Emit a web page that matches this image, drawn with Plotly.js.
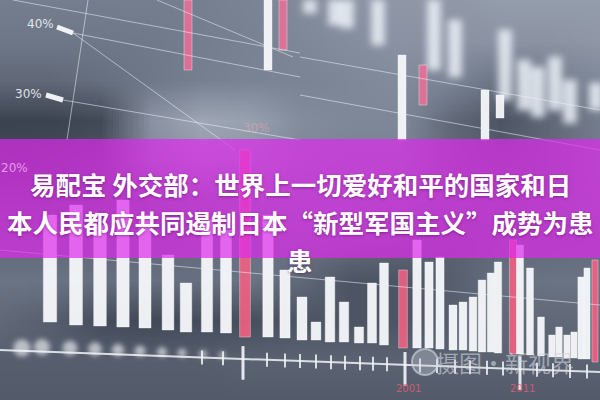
<!DOCTYPE html>
<html>
<head>
<meta charset="utf-8">
<script src="https://cdn.plot.ly/plotly-3.0.1.min.js"></script>
<style>
  html, body { margin: 0; padding: 0; background: #6c7586; }
  #chart { width: 600px; height: 400px; }
</style>
</head>
<body>
<div id="chart"></div>
<script>
const bgX = [0, 50, 100, 150, 200, 250, 300, 350, 400, 450, 500, 550, 600];
const bgRowsPx = [0, 40, 80, 120, 160, 200, 240, 280, 320, 360, 400];
const bgLevels = [
    [.55, .55, .55, .55, .56, .58, .62, .66, .68, .68, .70, .70, .70],
    [.52, .52, .52, .53, .55, .57, .60, .63, .65, .65, .66, .66, .68],
    [.45, .45, .48, .52, .56, .58, .58, .60, .62, .58, .50, .55, .60],
    [.20, .20, .25, .65, .75, .72, .62, .60, .60, .45, .35, .45, .55],
    [.25, .28, .35, .60, .68, .66, .60, .58, .58, .45, .40, .45, .55],
    [.38, .38, .40, .45, .50, .55, .55, .55, .52, .48, .45, .48, .52],
    [.45, .45, .45, .45, .47, .50, .50, .48, .45, .42, .45, .45, .47],
    [.50, .50, .48, .48, .48, .50, .45, .35, .35, .40, .48, .50, .50],
    [.45, .40, .28, .25, .28, .30, .35, .35, .35, .40, .45, .45, .45],
    [.40, .40, .40, .40, .40, .42, .42, .42, .42, .42, .42, .42, .42],
    [.38, .38, .38, .38, .38, .38, .38, .38, .38, .38, .38, .38, .38],
];

/** barres du bas (haut / bas en pixels depuis le haut de l'image) */
const lowX = [50, 76, 100, 123, 145, 168, 186, 207, 226, 245, 268, 285, 302, 316, 330, 344, 359, 372, 384, 403,
              417, 429, 440, 453, 463, 473, 482, 491, 498, 513, 520, 530, 541, 552, 559, 567, 574, 581, 587, 595];
const lowTop = [215, 205, 225, 200, 215, 255, 283, 220, 230, 150, 215, 270, 297, 322, 277, 302, 327, 283, 263, 270,
                240, 262, 257, 305, 302, 297, 280, 273, 262, 240, 245, 268, 317, 335, 327, 335, 332, 277, 268, 260];
const lowBottom = [322, 325, 326, 327, 328, 330, 332, 332, 333, 337, 337, 338, 340, 340, 342, 342, 343, 343, 345, 348,
                   348, 348, 349, 350, 350, 351, 352, 352, 353, 354, 354, 355, 356, 357, 357, 358, 358, 359, 359, 362];
const lowPink = [245, 403, 513, 595];

/** barres nettes du haut */
const midX = [188, 268, 283, 402, 423, 485, 500];
const midTop = [0, 0, 0, 55, 65, 90, 95];
const midBottom = [70, 70, 50, 140, 105, 140, 118];
const midPink = [188, 283, 423];

/** barres floues suspendues en haut à droite */
const blurX = [310, 335, 347, 378, 434, 455, 505, 524, 538, 555, 570, 596];
const blurTop = [0, 0, 0, 0, 0, 20, 30, 60, 67, 57, 80, 83];
const blurBottom = [13, 25, 28, 45, 70, 77, 100, 110, 117, 110, 123, 110];

/** traits fins en diagonale [x0, y0, x1, y1] */
const segments = [
    [13, 0, 300, 53],
    [157, 0, 293, 57],
    [73, 33, 300, 77],
    [73, 33, 235, 150],
    [63, 100, 300, 140],
    [88, 0, 67, 140],
    [300, 57, 600, 110],
    [300, 95, 600, 150],
    [0, 250, 600, 305],
];
/** petits repères blancs à côté des pourcentages */
const markSegments = [
    [57, 27, 73, 33],
    [46, 95, 63, 100],
];

/** axe du bas */
const axisLine = [0, 350, 600, 372];
const tickX = [202, 223, 267, 285, 300, 316, 331, 345, 360, 373, 387, 420, 437, 455, 470, 487, 503, 537, 553, 570, 587];
const bigTickX = [243, 405, 520];
const glowX = [22, 42, 70, 95, 118, 140, 162, 182, 203, 222];
const glowY = [348, 347, 348, 349, 350, 351, 352, 353, 354, 355];

/** textes */
const pctLabels = ['40%', '30%', '20%', '30%'];
const pctX = [40, 28, 14, 256];
const pctY = [24, 94, 168, 128];
const titleLines = ['易配宝 外交部：世界上一切爱好和平的国家和日', '本人民都应共同遏制日本“新型军国主义”成势为患', '患'];
const titleY = [183, 221, 259];
const yearLabels = ['2001', '2011'];
const yearX = [408, 522];
const watermark = '摄图·新视界';

const W = 600, H = 400;
const up = (p) => H - p;   // pixels depuis le haut -> axe y vers le haut

function barTrace(xs, tops, bottoms, pinks, white, pink, widthAt) {
    return {
        type: 'bar',
        x: xs,
        base: bottoms.map(up),
        y: bottoms.map((b, i) => b - tops[i]),
        width: xs.map(widthAt),
        marker: {
            color: xs.map(x => pinks.includes(x) ? pink : white),
            line: { color: 'rgba(255,255,255,0.35)', width: 1 },
        },
        hoverinfo: 'skip',
        showlegend: false,
    };
}

function segTrace(segs, color, width) {
    let x = [], y = [];
    segs.forEach(s => {
        x.push(s[0], s[2], null);
        y.push(up(s[1]), up(s[3]), null);
    });
    return { type: 'scatter', mode: 'lines', x: x, y: y, line: { color: color, width: width },
             hoverinfo: 'skip', showlegend: false };
}

function axisY(x) {
    return axisLine[1] + (axisLine[3] - axisLine[1]) * (x - axisLine[0]) / (axisLine[2] - axisLine[0]);
}

var data = [
    {
        type: 'heatmap',
        x: bgX,
        // y croissant (bas -> haut) pour le lissage
        y: bgRowsPx.map(up).reverse(),
        z: bgLevels.slice().reverse(),
        zmin: 0, zmax: 1,
        zsmooth: 'fast',
        colorscale: [[0, '#262a35'], [0.35, '#4d5564'], [0.6, '#7f8899'], [0.8, '#a9b1bf'], [1, '#d4d9e1']],
        showscale: false,
        hoverinfo: 'skip',
    },
    barTrace(blurX, blurTop, blurBottom, [], 'rgba(235,240,248,0.85)', 'rgba(238,100,135,0.85)', x => 13),
    barTrace(midX, midTop, midBottom, midPink, 'rgba(245,247,250,0.95)', 'rgba(236,110,150,0.85)', x => 8),
    barTrace(lowX, lowTop, lowBottom, lowPink, 'rgba(246,248,251,0.95)', 'rgba(240,95,130,0.9)', x => 14 - 8 * x / W),
    segTrace(segments, 'rgba(235,240,248,0.55)', 1),
    segTrace(markSegments, 'rgba(250,250,252,0.95)', 5),
    segTrace([axisLine], 'rgba(240,243,248,0.85)', 2),
    {
        type: 'scatter', mode: 'markers',
        x: tickX, y: tickX.map(x => up(axisY(x))),
        marker: { symbol: 'line-ns', size: 10, line: { color: 'rgba(240,243,248,0.85)', width: 2 } },
        hoverinfo: 'skip', showlegend: false,
    },
    {
        type: 'scatter', mode: 'markers',
        x: bigTickX, y: bigTickX.map(x => up(axisY(x) + 4)),
        marker: { symbol: 'line-ns', size: 24, line: { color: 'rgba(245,247,250,0.9)', width: 3 } },
        hoverinfo: 'skip', showlegend: false,
    },
    {
        type: 'scatter', mode: 'markers',
        x: glowX, y: glowY.map(up),
        marker: { size: glowX.map((x, i) => 16 - i * 1.2), color: 'rgba(245,247,252,0.9)' },
        hoverinfo: 'skip', showlegend: false,
    },
    {
        type: 'scatter', mode: 'markers',
        x: [425], y: [up(362)],
        marker: { size: 26, color: 'rgba(200,205,215,0.35)', line: { color: 'rgba(215,220,228,0.6)', width: 2 } },
        hoverinfo: 'skip', showlegend: false,
    },
];

var annotations = [];
pctLabels.forEach((t, i) => {
    annotations.push({
        x: pctX[i], y: up(pctY[i]), text: t, showarrow: false,
        font: { family: 'DejaVu Sans', size: 12,
                color: i == 2 ? 'rgba(245,180,248,0.8)' : (i == 3 ? 'rgba(255,170,180,0.45)' : 'rgba(240,243,248,0.9)') },
    });
});
yearLabels.forEach((t, i) => {
    annotations.push({
        x: yearX[i], y: up(388), text: t, showarrow: false,
        font: { family: 'DejaVu Sans', size: 10, color: 'rgba(235,90,110,0.8)' },
    });
});
annotations.push({
    x: 505, y: up(362), text: watermark, showarrow: false,
    font: { family: 'Noto Sans CJK SC', size: 23, color: 'rgba(210,214,222,0.6)' },
});
titleLines.forEach((t, i) => {
    annotations.push({
        xref: 'paper', x: 0.5, y: up(titleY[i]), text: t, showarrow: false,
        font: { family: 'Noto Sans CJK SC', size: 25.5, weight: 'bold', color: '#ffffff',
                shadow: '0px 1px 3px rgba(70,0,80,0.45)' },
    });
});

var layout = {
    width: W, height: H,
    margin: { l: 0, r: 0, t: 0, b: 0, pad: 0 },
    paper_bgcolor: '#6c7586',
    plot_bgcolor: 'rgba(0,0,0,0)',
    barmode: 'overlay',
    xaxis: { range: [0, W], visible: false },
    yaxis: { range: [0, H], visible: false },
    shapes: [{
        type: 'rect', layer: 'above',
        xref: 'paper', x0: 0, x1: 1,
        y0: up(258), y1: up(139),
        fillcolor: 'rgba(222,42,236,0.70)',
        line: { width: 0 },
    }],
    annotations: annotations,
};

const gd = document.getElementById('chart');
Plotly.newPlot(gd, data, layout, { staticPlot: true }).then(() => {
    // flou façon photo sur les barres et les points lumineux
    const ns = 'http://www.w3.org/2000/svg';
    const defs = gd.querySelector('.main-svg defs');
    function addBlur(id, sd) {
        const f = document.createElementNS(ns, 'filter');
        f.setAttribute('id', id);
        f.setAttribute('x', '-50%'); f.setAttribute('y', '-50%');
        f.setAttribute('width', '200%'); f.setAttribute('height', '200%');
        const b = document.createElementNS(ns, 'feGaussianBlur');
        b.setAttribute('stdDeviation', sd);
        f.appendChild(b);
        defs.appendChild(f);
    }
    if (!defs) return;
    addBlur('flouFort', 3.5);
    addBlur('flouMoyen', 2.5);
    addBlur('flouLeger', 0.7);
    const bars = gd.querySelectorAll('.barlayer .trace');
    if (bars[0]) bars[0].setAttribute('filter', 'url(#flouFort)');
    if (bars[1]) bars[1].setAttribute('filter', 'url(#flouLeger)');
    if (bars[2]) bars[2].setAttribute('filter', 'url(#flouLeger)');
    const sc = gd.querySelectorAll('.scatterlayer .trace');
    if (sc[0]) sc[0].setAttribute('filter', 'url(#flouLeger)');
    if (sc[5]) sc[5].setAttribute('filter', 'url(#flouMoyen)');
    if (sc[6]) sc[6].setAttribute('filter', 'url(#flouLeger)');
});
</script>
</body>
</html>
